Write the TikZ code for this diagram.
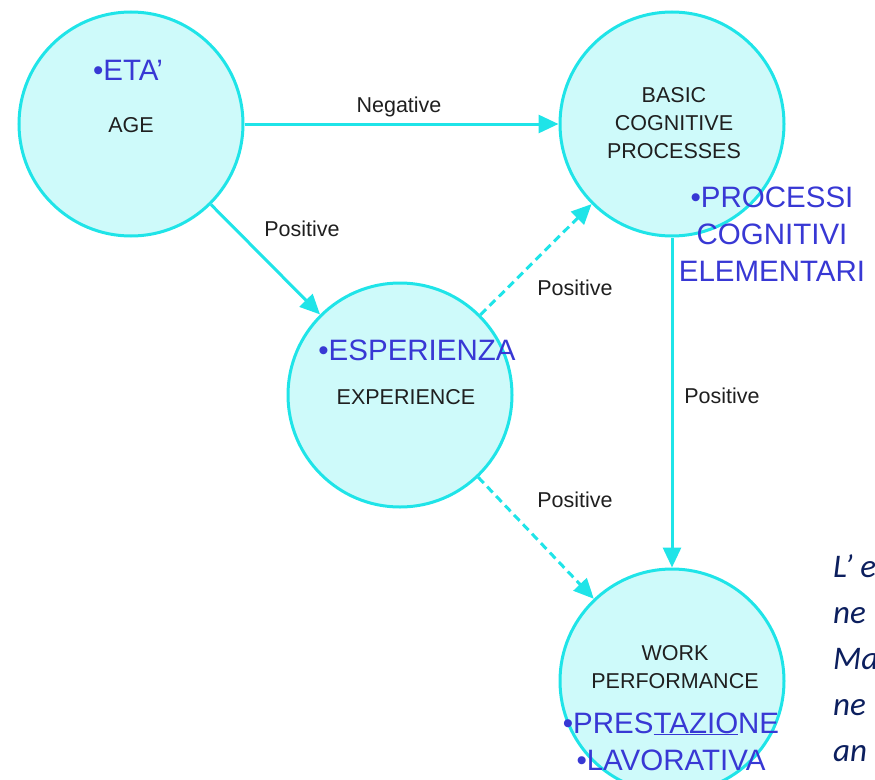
\documentclass[tikz,border=0pt]{standalone}
\usepackage{fontspec}
\setmainfont{Liberation Sans}
\newfontfamily\notefont{Carlito}
\usepackage{tikz}
\usetikzlibrary{positioning,arrows.meta}
\definecolor{ringcyan}{HTML}{1FE4E8}
\definecolor{fillcyan}{HTML}{CEFAFA}
\definecolor{itblue}{HTML}{3838D4}
\definecolor{notenavy}{HTML}{0C1F5E}
\tikzstyle{bubble}  = [circle, draw=ringcyan, fill=fillcyan, line width=3pt, minimum size=224pt, inner sep=0pt]
\tikzstyle{entext}  = [text=black!88, font=\fontsize{21.5}{28}\selectfont, align=center, inner sep=0pt, anchor=base]
\tikzstyle{ittext}  = [text=itblue, font=\fontsize{29.5}{37}\selectfont, align=center, inner sep=0pt, anchor=base]
\tikzstyle{weight}  = [text=black!88, font=\fontsize{21.5}{26}\selectfont, inner sep=0pt, anchor=base]
\tikzstyle{high}    = [draw=ringcyan, line width=3pt, -{Triangle[length=20pt,width=18pt]}]
\tikzstyle{low}     = [high, dash pattern=on 8pt off 5pt]

\begin{document}
\begin{tikzpicture}[x=1pt, y=-1pt]
	\useasboundingbox (0,0) rectangle (875,779);

	% place nodes
	\node [bubble] (N1) at (131,124) {};
	\node [bubble] (N2) at (672,124) {};
	\node [bubble] (N3) at (400,395) {};
	\node [bubble] (N4) at (672,681) {};

	% texts (base = last line)
	\node [ittext] (T1) at (128,80)  {•ETA’};
	\node [entext] (T2) at (131,132) {AGE};
	\node [entext] (T3) at (674,158) {BASIC\\COGNITIVE\\PROCESSES};
	\node [ittext] (T4) at (772,281) {•PROCESSI\\COGNITIVI\\ELEMENTARI};
	\node [ittext] (T5) at (417,360) {•ESPERIENZA};
	\node [entext] (T6) at (406,404) {EXPERIENCE};
	\node [entext] (T7) at (675,688) {WORK\\PERFORMANCE};
	\node [ittext] (T8) at (671,770) {•PRES\underline{TAZIO}NE\\•LAVORATIVA};
	\node [text=notenavy, font=\notefont\itshape\fontsize{33}{46}\selectfont,
	       align=left, inner sep=0pt, anchor=base west] (T9) at (833,761)
	       {L’ e\\ne\\Ma\\ne\\an};

	% edge labels
	\node [weight] (E1) at (399,112) {Negative};
	\node [weight] (E2) at (302,236) {Positive};
	\node [weight] (E3) at (575,295) {Positive};
	\node [weight] (E4) at (722,403) {Positive};
	\node [weight] (E5) at (575,507) {Positive};

	% draw edges
	\path [high] (N1) -- (N2);
	\path [high] (N1) -- (N3);
	\path [low]  (N3) -- (N2);
	\path [high] (N2) -- (N4);
	\path [low]  (N3) -- (N4);
\end{tikzpicture}
\end{document}
